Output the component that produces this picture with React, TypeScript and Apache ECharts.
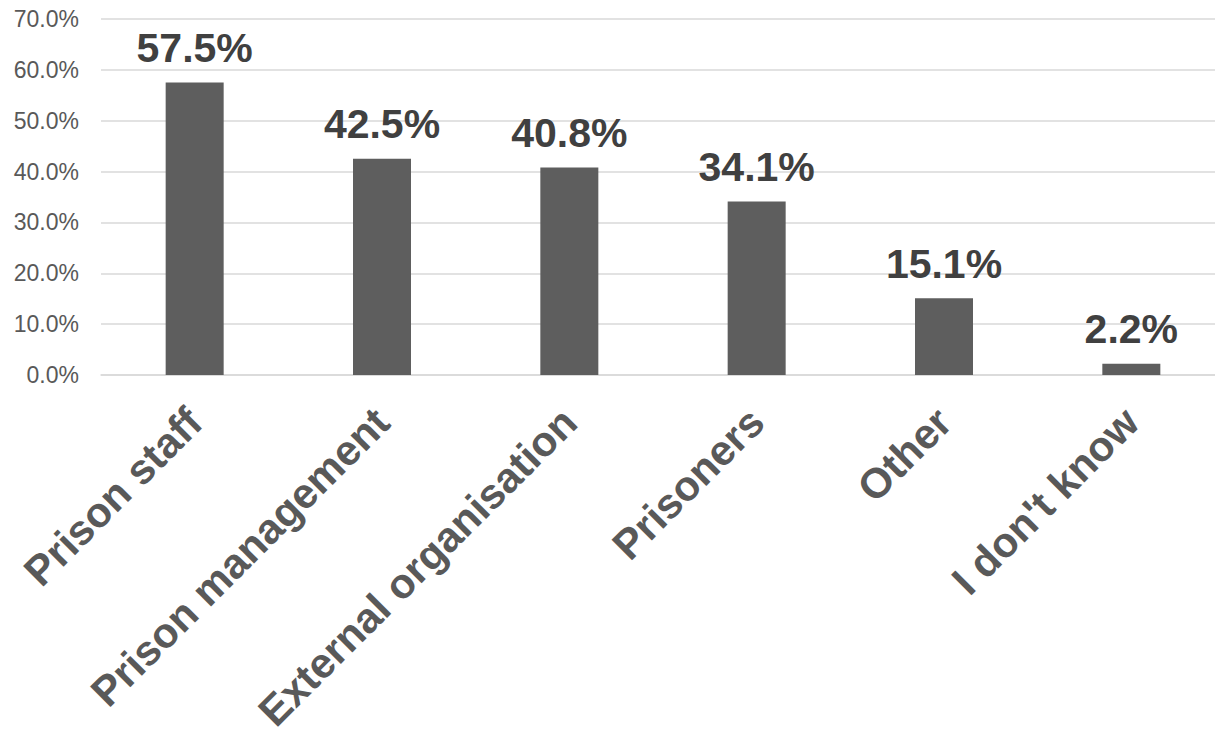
import React, { useEffect, useRef } from "react";
import * as echarts from "echarts";

const categories = ["Prison staff", "Prison management", "External organisation", "Prisoners", "Other", "I don't know"];
const values = [57.5, 42.5, 40.8, 34.1, 15.1, 2.2];

export default function App() {
  const ref = useRef<HTMLDivElement>(null);
  useEffect(() => {
    const chart = echarts.init(ref.current!, null, { renderer: "svg" });
    chart.setOption({
      animation: false,
      grid: { left: 101, right: -10, top: 19, bottom: 359, containLabel: false, outerBoundsMode: "none" },
      xAxis: {
        type: "category",
        data: categories,
        axisLine: { show: true, lineStyle: { color: "#d9d9d9", width: 1.5 } },
        axisTick: { show: false },
        axisLabel: {
          rotate: 45,
          interval: 0,
          margin: 40,
          color: "#595959",
          fontSize: 42,
          fontWeight: "bold",
          fontFamily: "Liberation Sans, Arial, sans-serif",
        },
      },
      yAxis: {
        type: "value",
        min: 0,
        max: 70,
        interval: 10,
        axisLine: { show: false },
        axisTick: { show: false },
        splitLine: { lineStyle: { color: "#d9d9d9", width: 1.5 } },
        axisLabel: {
          margin: 22,
          color: "#595959",
          fontSize: 23,
          fontFamily: "Liberation Sans, Arial, sans-serif",
          formatter: (v: number) => v.toFixed(1) + "%",
        },
      },
      series: [
        {
          type: "bar",
          data: values,
          barWidth: 58,
          itemStyle: { color: "#5e5e5e" },
          label: {
            show: true,
            position: "top",
            distance: 14,
            color: "#404040",
            fontSize: 41,
            fontWeight: "bold",
            fontFamily: "Liberation Sans, Arial, sans-serif",
            formatter: (p: any) => p.value.toFixed(1) + "%",
          },
        },
      ],
    });
    return () => chart.dispose();
  }, []);
  return <div ref={ref} style={{ width: 1215, height: 734, position: "absolute", left: 0, top: 0, background: "#fff", overflow: "hidden" }} />;
}
